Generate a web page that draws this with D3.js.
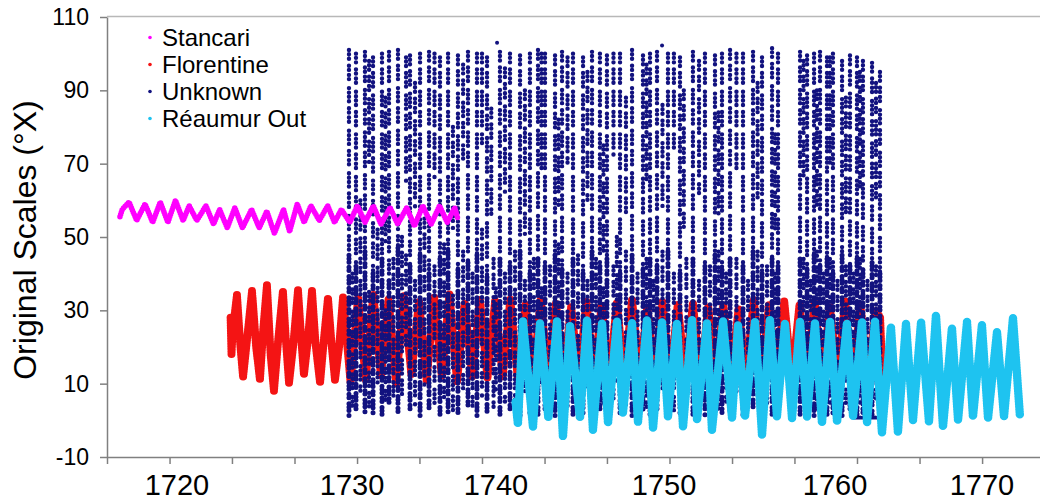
<!DOCTYPE html>
<html>
<head>
<meta charset="utf-8">
<script src="https://cdn.jsdelivr.net/npm/d3@7"></script>
<style>
  body { margin: 0; background: #fff; }
  svg { display: block; }
  text { font-family: Arial, "Liberation Sans", sans-serif; fill: #000; }
</style>
</head>
<body>
<svg id="chart" width="1040" height="501"></svg>
<script>
// ---- Series (decimal year, reading in the instrument's own scale) ----
// Seasonal turning points of each record.
const stancari = [
  [1714.45,55.5],[1714.6,57.5],[1715.05,59.5],[1715.55,54.5],[1716.1,59],[1716.6,54],
  [1717.1,59.5],[1717.6,54],[1718.1,60],[1718.6,54.5],[1719.0,58.5],[1719.5,54.5],
  [1720.1,58.5],[1720.6,53.5],[1721.0,57.5],[1721.5,52.5],[1722.0,58],[1722.5,52.5],
  [1723.1,57.5],[1723.6,52.5],[1724.1,57],[1724.6,51],[1725.2,57.5],[1725.6,51.5],
  [1726.1,59],[1726.55,54],[1727.0,58.5],[1727.55,54.5],[1728.1,58.5],[1728.55,54],
  [1729.0,57.5],[1729.55,54],[1730.05,58.5],[1730.55,54],[1731.1,58.5],[1731.6,53.5],
  [1732.2,58],[1732.7,53.5],[1733.3,58],[1733.8,53],[1734.35,58.5],[1734.9,53.5],
  [1735.45,58.5],[1735.95,54],[1736.45,58],[1736.65,55]
];

const florentine = [
  [1721.72,28],[1721.78,18],[1721.85,24],[1722.14,34.2],[1722.35,21],[1722.54,11.8],
  [1722.8,22],[1723.13,35.3],[1723.4,20],[1723.65,11],[1723.85,24],[1724.11,36.9],
  [1724.35,18],[1724.57,8],[1724.85,22],[1725.16,35.3],[1725.35,22],[1725.56,10.2],
  [1725.85,21],[1726.15,35.5],[1726.35,23],[1726.54,12.4],[1726.8,22],[1727.07,35.3],
  [1727.3,21],[1727.6,10.2],[1727.85,22],[1728.12,33.4],[1728.35,21],[1728.58,11],
  [1728.85,20],[1729.11,33.6],[1729.6,10.5],
  [1730.1,33.5],[1730.6,11],[1731.1,34.5],[1731.6,12],[1732.1,33],[1732.6,10],
  [1733.1,34],[1733.6,12.5],[1734.1,32.5],[1734.6,11],[1735.1,33.5],[1735.6,12],
  [1736.1,34.5],[1736.6,10.5],[1737.1,32],[1737.6,12],[1738.1,33],[1738.6,11.5],
  [1739.1,32.5],[1739.6,12],[1740.1,33],[1740.6,11],[1741.1,31.5],[1741.6,12],
  [1742.1,33],[1742.6,11],[1743.1,32],[1743.6,12.5],[1744.1,31],[1744.6,11.5],
  [1745.1,32.5],[1745.6,12],[1746.1,31.5],[1746.6,11],[1747.1,32],[1747.6,12],
  [1748.1,33],[1748.6,11.5],[1749.1,31],[1749.6,12],[1750.1,32.5],[1750.6,11],
  [1751.1,31.5],[1751.6,12.5],[1752.1,32],[1752.6,11],[1753.1,31],[1753.6,12],
  [1754.1,31.5],[1754.6,11.5],[1755.1,30.5],[1755.6,12],[1756.1,33],[1756.6,11],
  [1757.1,31.5],[1757.6,12.5],[1758.1,32.5],[1758.6,11],[1759.1,31.5],[1759.6,12],
  [1760.1,32.5],[1760.6,11.5],[1761.1,31],[1761.6,12],[1762.1,32.5],[1762.6,11],
  [1763.1,31.5],[1763.6,12],[1764.1,30],[1764.4,28],[1764.59,7.5]
];

const reaumurOut = [
  [1740.45,5],[1740.6,-1],[1740.93,27],[1741.59,-1.8],[1742.05,26.5],[1742.6,0.6],
  [1743.17,27],[1743.56,-4.5],[1744.02,26],[1744.68,0.6],[1745.14,27.5],[1745.53,-2.6],
  [1746.13,26.5],[1746.52,-0.7],[1747.11,27],[1747.5,2],[1748.1,26.5],[1748.49,-0.4],
  [1749.08,27.5],[1749.48,-2.1],[1750.07,27],[1750.46,1],[1751.05,26.5],[1751.45,-1.8],
  [1752.04,27.5],[1752.37,0.1],[1753.02,26.5],[1753.35,-2.6],[1754.08,27],[1754.67,0.6],
  [1755.06,26],[1755.52,1],[1756.18,27],[1756.64,-4],[1757.16,27.5],[1757.62,1],
  [1758.15,26.5],[1758.61,0.6],[1759.14,27],[1759.6,1],[1760.12,26.5],[1760.58,-0.7],
  [1761.11,27],[1761.57,-0.4],[1762.22,26.5],[1762.62,1],[1763.21,27],[1763.54,-0.7],
  [1764.06,27],[1764.52,-3.4],[1765.11,25.5],[1765.57,-3.2],[1766.1,26.3],[1766.56,0.1],
  [1767.09,26.8],[1767.61,-0.4],[1768.07,28.7],[1768.53,-1.8],[1769.12,25.2],[1769.52,0.1],
  [1770.11,26.8],[1770.5,1],[1771.09,26],[1771.49,0.6],[1772.08,24.1],[1772.54,1],
  [1773.13,27.9],[1773.59,1]
];

// Unknown record: full runs per column [year, lowest, highest, top of the busy lower part]
const unknownRuns = [
  [1729.50,1,101,45],[1729.96,3,100,42],[1730.55,1.5,100.5,46],[1731.08,2,99,40],
  [1731.67,1,100,44],[1732.13,4,100.5,38],[1732.72,1,101,47],[1733.51,2.5,99.5,42],
  [1734.17,1,100,45],[1734.76,3,100.5,40],[1735.48,1.5,99,44],[1736.01,2,100,46],
  [1736.66,1,99.5,41],[1737.32,3.5,100.5,43],[1737.91,1,100,45],[1738.57,2,99,39],
  [1739.42,1.5,100.5,44],[1740.08,3,100,42],[1740.74,1,99.5,46],[1741.39,2,100,40],
  [1741.92,1,101,44],[1742.38,2.5,100,42],[1743.04,1,99.5,45],[1743.50,3,100.5,41],
  [1744.22,1,100,44],[1744.88,2,99,40],[1745.47,1.5,100.5,46],[1745.99,3,100,42],
  [1746.45,1,99.5,44],[1747.31,2,100,40],[1748.10,1,101,45],[1748.82,2.5,99.5,41],
  [1749.28,1,100,44],[1749.74,3,100.5,42],[1750.46,1,100,46],[1751.25,2,99,40],
  [1752.10,1.5,100.5,44],[1752.89,1,100,42],[1753.55,3,99.5,45],[1754.01,1,100,41],
  [1754.54,2,101,44],[1755.39,1,100,42],[1756.05,2.5,100.5,46],[1756.64,1,99,40],
  [1757.30,1.5,101.5,44],[1757.69,2,100,42],
  [1759.14,1,100.5,44],[1759.60,2,99.5,41],[1760.06,1,100,45],[1760.45,3,100.5,42],
  [1760.91,1,99,44],[1761.30,2,100,40],[1761.90,1,98,45],[1762.42,2.5,99.5,42],
  [1762.88,1,99,44],[1763.27,2,98,41],[1763.87,1,97.5,43],[1764.39,2,95,40]
];
// Unknown record: broken runs between the full columns [year, lowest, highest]
const unknownPartial = [
  [1729.73,4,40],[1730.25,8,60],[1730.82,3,35],[1730.82,70,98],[1731.38,10,52],
  [1731.9,5,30],[1731.9,48,88],[1732.42,6,44],[1732.98,5,50],[1733.25,20,45],
  [1733.25,65,99],[1733.84,4,38],[1733.84,58,92],[1734.46,9,55],[1735.12,3,42],
  [1735.12,66,100],[1735.75,6,48],[1736.33,2,34],[1736.33,52,80],[1737.0,8,46],
  [1737.0,70,97],[1737.62,4,40],[1738.24,6,52],[1738.24,75,100],[1738.85,55,85],
  [1739.0,3,44],[1739.15,8,36],[1739.75,5,40],[1739.75,62,96],[1740.41,2,46],
  [1741.06,7,38],[1741.06,50,90],[1741.65,4,44],[1742.15,9,36],[1742.15,68,100],
  [1742.71,3,42],[1743.27,6,48],[1743.27,58,82],[1743.86,4,40],[1743.86,70,99],
  [1744.55,2,45],[1745.17,8,38],[1745.17,60,95],[1745.73,5,44],[1746.22,3,36],
  [1746.22,46,75],[1746.88,6,42],[1746.88,72,100],[1747.1,10,50],[1747.7,4,46],
  [1747.7,55,88],[1748.46,7,40],[1749.05,3,44],[1749.05,64,97],[1749.51,5,38],
  [1750.1,8,46],[1750.1,58,86],[1750.85,2,40],[1750.85,74,100],[1751.5,52,90],
  [1751.67,6,44],[1752.5,4,38],[1752.5,62,98],[1753.22,7,42],[1753.78,3,46],
  [1753.78,56,84],[1754.28,5,40],[1754.96,8,44],[1754.96,68,100],[1755.72,4,38],
  [1756.35,6,46],[1756.35,60,92],[1756.97,3,42],[1757.5,5,40],[1757.5,52,78],
  [1759.37,4,44],[1759.37,66,98],[1759.83,7,38],[1760.25,3,46],[1760.25,58,90],
  [1760.68,6,40],[1761.1,4,44],[1761.1,70,99],[1761.6,8,38],[1762.15,3,42],
  [1762.15,56,88],[1762.65,6,40],[1763.07,4,44],[1763.07,62,95],[1763.57,7,38],
  [1764.13,5,42],[1764.13,60,92]
];
const unknownSingles = [[1739.23,103],[1750.07,102.2]];
const unknownFlat = [[1762.55,3.5],[1762.55,0.8],[1764.5,0.8],[1764.5,2.5]];

// ---- Legend and axes ----
const seriesNames = ["Stancari", "Florentine", "Unknown", "Réaumur Out"];
const seriesColors = ["#ff00ff", "#f41414", "#12127f", "#1ec3f0"];
const yTicks = [-10, 10, 30, 50, 70, 90, 110];
const xTicks = [1713.60,1717.71,1721.81,1725.92,1730.03,1734.13,1738.24,1742.35,
                1746.45,1750.56,1754.67,1758.77,1762.88,1766.99,1771.10];
const xLabels = ["1720", "1730", "1740", "1750", "1760", "1770"];
const xLabelAt = [1718.20, 1729.70, 1739.16, 1750.20, 1761.44, 1771.09];
const yTitle = "Original Scales (°X)";

// ---- Drawing ----
const svg = d3.select("#chart");
const plotLeft = 107, plotRight = 1040, plotTop = 17, plotBottom = 457;
const x = d3.scaleLinear().domain([1713.6, 1774.905]).range([plotLeft, plotRight]);
const y = d3.scaleLinear().domain([-10, 110]).range([plotBottom, plotTop]);
const axisColor = "#808080";

// top frame line
svg.append("line")
  .attr("x1", plotLeft).attr("x2", plotRight).attr("y1", plotTop - 0.5).attr("y2", plotTop - 0.5)
  .attr("stroke", "#b8b8b8").attr("stroke-width", 1.5);

const line = d3.line().x(d => x(d[0])).y(d => y(d[1]));
const plot = svg.append("g");

// a run of readings rendered as a chain of round dots
function beads(data, color, width, dash) {
  plot.append("path")
    .attr("d", line(data))
    .attr("fill", "none")
    .attr("stroke", color)
    .attr("stroke-width", width)
    .attr("stroke-linecap", "round")
    .attr("stroke-linejoin", "round")
    .attr("stroke-dasharray", dash);
}
const sparseDash = "0 4.2 0 4.5 0 7 0 4.2 0 5 0 4.2 0 9 0 4.5";
const busyDash = "0 3.4 0 3.4 0 5 0 3.4 0 6";

// Florentine underneath
beads(florentine, seriesColors[1], 8, "0 2.6");

// Unknown: sparse upper runs, busy lower runs, broken runs between
unknownRuns.forEach(r => {
  beads([[r[0], r[2]], [r[0], r[3]]], seriesColors[2], 4.4, sparseDash);
  beads([[r[0], r[3]], [r[0], r[1]]], seriesColors[2], 5, busyDash);
});
unknownPartial.forEach(r => {
  beads([[r[0], r[2]], [r[0], r[1]]], seriesColors[2], 4.4, sparseDash);
});
beads(unknownFlat, seriesColors[2], 4, "0 3");
plot.selectAll("circle.single").data(unknownSingles).enter().append("circle")
  .attr("class", "single")
  .attr("cx", d => x(d[0])).attr("cy", d => y(d[1])).attr("r", 2)
  .attr("fill", seriesColors[2]);

// Réaumur Out, then Stancari on top
beads(reaumurOut, seriesColors[3], 8.5, "0 2.6");
beads(stancari, seriesColors[0], 5.5, "0 2.4");

// Y axis
const yAxis = svg.append("g")
  .attr("transform", `translate(${plotLeft},0)`)
  .call(d3.axisLeft(y).tickValues(yTicks).tickFormat(d => String(d))
    .tickSize(7).tickSizeOuter(0).tickPadding(11));
yAxis.select(".domain").attr("stroke", axisColor).attr("stroke-width", 1.5);
yAxis.selectAll(".tick line").attr("stroke", axisColor).attr("stroke-width", 1.5);
yAxis.selectAll(".tick text").style("font-size", "23px").attr("fill", "#000");

// X axis (marks only)
const xAxis = svg.append("g")
  .attr("transform", `translate(0,${plotBottom})`)
  .call(d3.axisBottom(x).tickValues(xTicks).tickSize(7).tickSizeOuter(0).tickFormat(""));
xAxis.select(".domain").attr("stroke", axisColor).attr("stroke-width", 1.5);
xAxis.selectAll(".tick line").attr("stroke", axisColor).attr("stroke-width", 1.5);

svg.append("g").selectAll("text").data(xLabels).enter().append("text")
  .attr("x", (d, i) => x(xLabelAt[i]))
  .attr("y", 495)
  .attr("text-anchor", "middle")
  .style("font-size", "29px")
  .text(d => d);

// Y title
svg.append("text")
  .attr("transform", "translate(36,240) rotate(-90)")
  .attr("text-anchor", "middle")
  .style("font-size", "32px")
  .text(yTitle);

// Legend
const legend = svg.append("g");
seriesNames.forEach((name, i) => {
  const cy = 37.5 + i * 27;
  legend.append("circle").attr("cx", 150).attr("cy", cy).attr("r", 1.8).attr("fill", seriesColors[i]);
  legend.append("text").attr("x", 162).attr("y", cy + 8.5).style("font-size", "24px").text(name);
});
</script>
</body>
</html>
